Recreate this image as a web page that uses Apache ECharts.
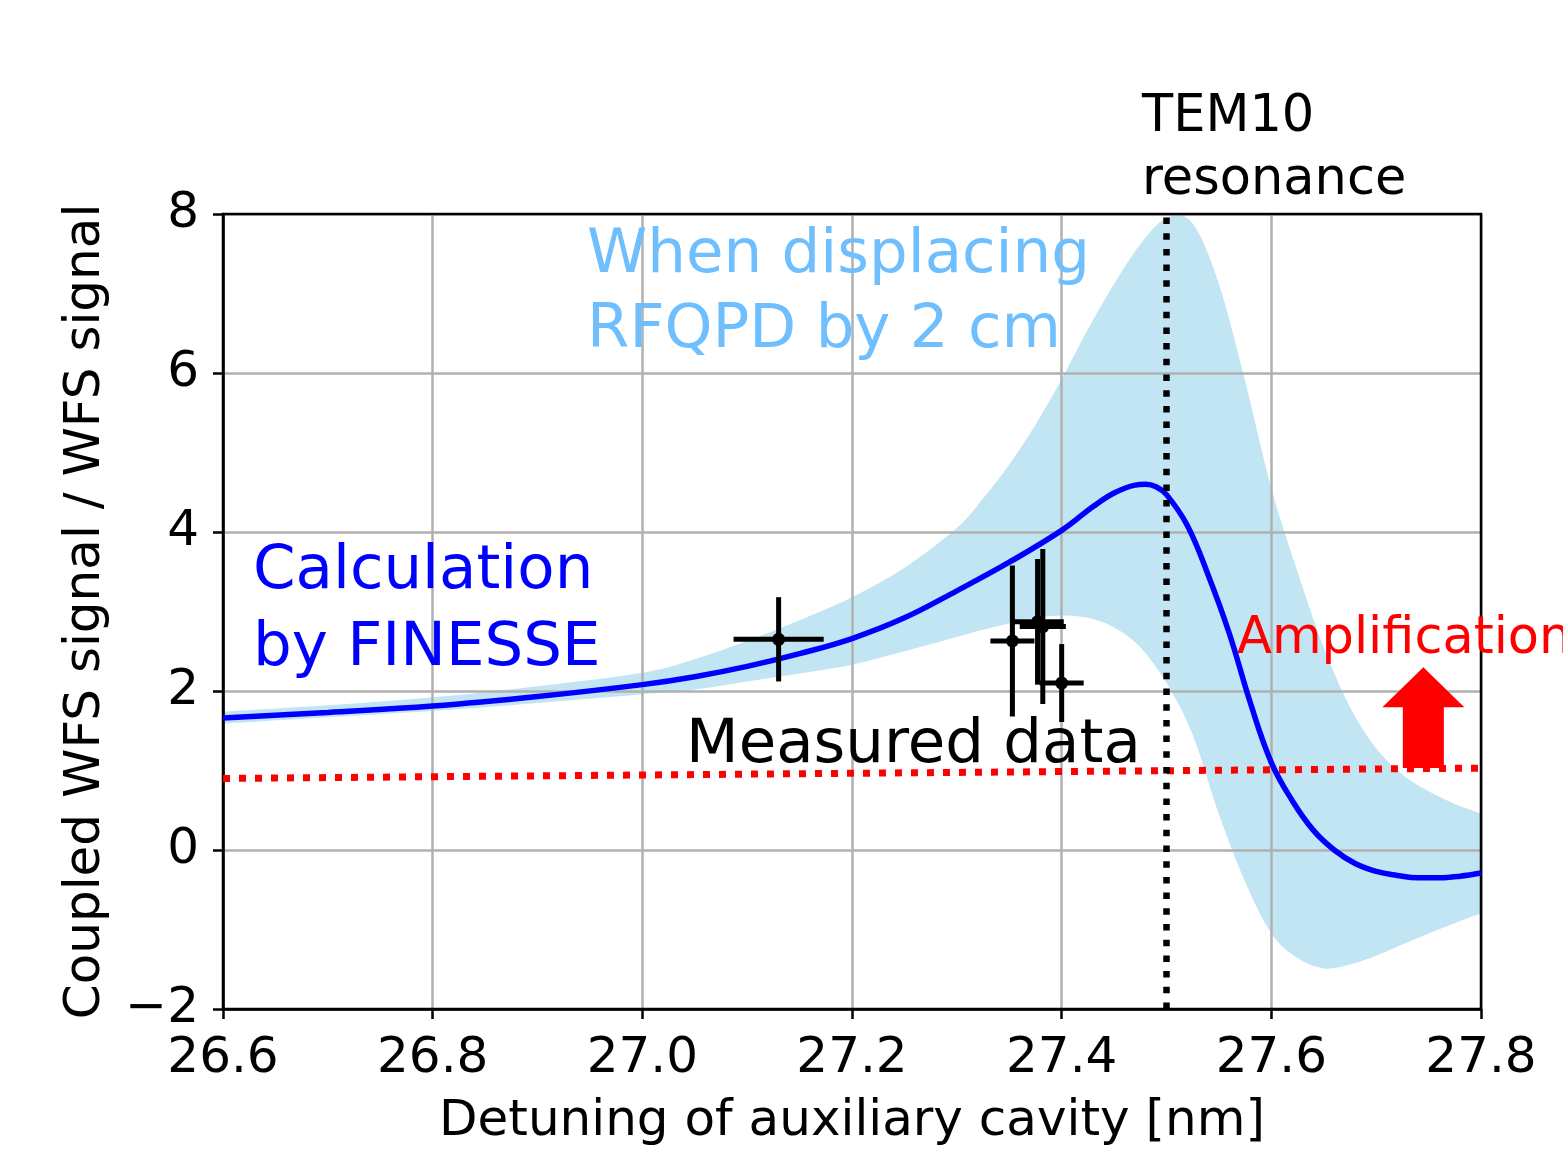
<!DOCTYPE html>
<html>
<head>
<meta charset="utf-8">
<script src="https://cdn.jsdelivr.net/npm/echarts@6/dist/echarts.min.js"></script>
<style>
  html, body { margin: 0; padding: 0; background: #fff; }
  #main { width: 1563px; height: 1152px; }
</style>
</head>
<body>
<div id="main"></div>
<script>
// FINESSE calculation (blue curve)
const calcX = [26.6, 26.7, 26.8, 26.9, 27.0, 27.05, 27.1, 27.15, 27.2, 27.25, 27.3, 27.35, 27.4,
  27.43, 27.45, 27.47, 27.48, 27.49, 27.5, 27.52, 27.54, 27.56, 27.58, 27.6, 27.62, 27.64, 27.66,
  27.68, 27.7, 27.72, 27.74, 27.76, 27.78, 27.8];
const calcY = [1.66, 1.73, 1.81, 1.93, 2.08, 2.18, 2.31, 2.47, 2.66, 2.92, 3.26, 3.62, 4.02,
  4.32, 4.49, 4.59, 4.60, 4.57, 4.47, 4.08, 3.45, 2.72, 1.85, 1.10, 0.62, 0.25, 0.00,
  -0.17, -0.27, -0.32, -0.35, -0.35, -0.33, -0.29];

// band when displacing RFQPD by 2 cm
const bandX = [26.6, 26.7, 26.8, 26.9, 27.0, 27.05, 27.1, 27.15, 27.2, 27.25, 27.3,
  27.325, 27.35, 27.375, 27.4, 27.425, 27.45, 27.475, 27.5, 27.525, 27.55, 27.575,
  27.6, 27.625, 27.65, 27.675, 27.7, 27.725, 27.75, 27.775, 27.8];
const bandUpper = [1.74, 1.82, 1.92, 2.06, 2.23, 2.40, 2.63, 2.89, 3.18, 3.55, 4.05,
  4.42, 4.85, 5.35, 5.92, 6.55, 7.12, 7.62, 7.95, 7.88, 7.12, 5.90,
  4.55, 3.50, 2.55, 1.80, 1.28, 0.95, 0.74, 0.58, 0.46];
const bandLower = [1.59, 1.67, 1.75, 1.85, 1.96, 2.02, 2.12, 2.22, 2.33, 2.50, 2.68,
  2.77, 2.85, 2.92, 2.95, 2.92, 2.80, 2.55, 2.10, 1.45, 0.45, -0.40,
  -1.05, -1.36, -1.49, -1.44, -1.33, -1.19, -1.05, -0.92, -0.80];

// measured data with error bars
const measX = [27.13, 27.353, 27.377, 27.382, 27.40];
const measY = [2.65, 2.63, 2.87, 2.81, 2.10];
const measXErr = [0.043, 0.021, 0.025, 0.022, 0.021];
const measYErr = [0.53, 0.95, 0.79, 0.975, 0.49];

// red dotted reference level and TEM10 resonance
const levelX = [26.6, 27.8];
const levelY = [0.90, 1.03];
const resonanceX = 27.5;
const resonanceY = [-2, 8];

// amplification arrow (x, from, to)
const arrowX = 27.745;
const arrowFrom = 1.03;
const arrowTo = 2.30;

const xMin = 26.6, xMax = 27.8, xStep = 0.2;
const yMin = -2, yMax = 8, yStep = 2;

const FONT = '"DejaVu Sans", Verdana, sans-serif';

// smooth path through pixel points (catmull-rom -> bezier)
function curveThrough(pts, start) {
  let d = start ? 'M' + pts[0][0] + ' ' + pts[0][1] : 'L' + pts[0][0] + ' ' + pts[0][1];
  for (let i = 0; i < pts.length - 1; i++) {
    const p0 = pts[Math.max(i - 1, 0)], p1 = pts[i], p2 = pts[i + 1];
    const p3 = pts[Math.min(i + 2, pts.length - 1)];
    const c1 = [p1[0] + (p2[0] - p0[0]) / 6, p1[1] + (p2[1] - p0[1]) / 6];
    const c2 = [p2[0] - (p3[0] - p1[0]) / 6, p2[1] - (p3[1] - p1[1]) / 6];
    d += ' C' + c1[0] + ' ' + c1[1] + ' ' + c2[0] + ' ' + c2[1] + ' ' + p2[0] + ' ' + p2[1];
  }
  return d;
}

let chart = echarts.init(document.getElementById('main'));

let option = {
  animation: false,
  grid: {
    left: 223, right: 82, top: 214, bottom: 138, z: 2.5,
    show: true, borderColor: '#000', borderWidth: 2.5
  },
  xAxis: {
    type: 'value', min: xMin, max: xMax, interval: xStep, z: 1.5,
    name: 'Detuning of auxiliary cavity [nm]',
    nameLocation: 'middle', nameGap: 88,
    nameTextStyle: { fontSize: 50, color: '#000', fontFamily: FONT },
    axisLine: { onZero: false, lineStyle: { color: '#000', width: 2.5 } },
    axisTick: { length: 10, lineStyle: { color: '#000', width: 2.5 } },
    axisLabel: {
      fontSize: 50, color: '#000', fontFamily: FONT, margin: 25,
      formatter: v => v.toFixed(1)
    },
    splitLine: { lineStyle: { color: '#b0b0b0', width: 2.5 } }
  },
  yAxis: {
    type: 'value', min: yMin, max: yMax, interval: yStep, z: 1.5,
    name: 'Coupled WFS signal / WFS signal',
    nameLocation: 'middle', nameGap: 112,
    nameTextStyle: { fontSize: 50, color: '#000', fontFamily: FONT },
    axisLine: { onZero: false, lineStyle: { color: '#000', width: 2.5 } },
    axisTick: { length: 10, lineStyle: { color: '#000', width: 2.5 } },
    axisLabel: {
      fontSize: 50, color: '#000', fontFamily: FONT, margin: 24,
      formatter: v => String(v).replace('-', '\u2212')
    },
    splitLine: { lineStyle: { color: '#b0b0b0', width: 2.5 } }
  },
  series: [
    {
      // shaded band between lower and upper curve
      type: 'custom', z: 1, clip: true, silent: true,
      data: [[bandX[0], bandLower[0]]],
      renderItem: function (params, api) {
        const up = bandX.map((x, i) => api.coord([x, bandUpper[i]]));
        const lo = bandX.map((x, i) => api.coord([x, bandLower[i]])).reverse();
        const d = curveThrough(up, true) + ' ' + curveThrough(lo, false) + ' Z';
        return {
          type: 'path',
          shape: { pathData: d },
          style: { fill: '#c2e5f3', stroke: null }
        };
      }
    },
    {
      type: 'line', z: 3, smooth: 0.4, showSymbol: false,
      lineStyle: { color: '#0000ff', width: 5.5 },
      data: calcX.map((x, i) => [x, calcY[i]])
    },
    {
      type: 'custom', z: 4,
      data: measX.map((x, i) => [x, measY[i], measXErr[i], measYErr[i]]),
      renderItem: function (params, api) {
        const x = api.value(0), y = api.value(1), ex = api.value(2), ey = api.value(3);
        const c = api.coord([x, y]);
        const l = api.coord([x - ex, y]), r = api.coord([x + ex, y]);
        const t = api.coord([x, y + ey]), b = api.coord([x, y - ey]);
        const st = { stroke: '#000', lineWidth: 5 };
        return {
          type: 'group',
          children: [
            { type: 'line', shape: { x1: l[0], y1: l[1], x2: r[0], y2: r[1] }, style: st },
            { type: 'line', shape: { x1: t[0], y1: t[1], x2: b[0], y2: b[1] }, style: st },
            { type: 'circle', shape: { cx: c[0], cy: c[1], r: 6.5 }, style: { fill: '#000' } }
          ]
        };
      }
    },
    {
      type: 'line', z: 5, showSymbol: false,
      lineStyle: { color: '#ff0000', width: 7, type: [7, 9] },
      data: levelX.map((x, i) => [x, levelY[i]])
    },
    {
      type: 'custom', z: 5,
      data: [[arrowX, arrowFrom, arrowTo]],
      renderItem: function (params, api) {
        const base = api.coord([api.value(0), api.value(1)]);
        const tip = api.coord([api.value(0), api.value(2)]);
        const headH = 40, headW = 41, shaftW = 20.5;
        const hy = tip[1] + headH;
        return {
          type: 'polygon',
          shape: {
            points: [
              [tip[0], tip[1]], [tip[0] + headW, hy], [tip[0] + shaftW, hy],
              [tip[0] + shaftW, base[1]], [tip[0] - shaftW, base[1]],
              [tip[0] - shaftW, hy], [tip[0] - headW, hy]
            ]
          },
          style: { fill: '#ff0000' }
        };
      }
    },
    {
      type: 'line', z: 6, showSymbol: false,
      lineStyle: { color: '#000', width: 6.5, type: [6.5, 9.2] },
      data: resonanceY.map(y => [resonanceX, y])
    }
  ],
  graphic: [
    { type: 'text', left: 587, top: 226, z: 10,
      style: { text: 'When displacing', font: '61px ' + FONT, fill: '#6fbfff' } },
    { type: 'text', left: 587, top: 301, z: 10,
      style: { text: 'RFQPD by 2 cm', font: '61px ' + FONT, fill: '#6fbfff' } },
    { type: 'text', left: 253, top: 542, z: 10,
      style: { text: 'Calculation', font: '61px ' + FONT, fill: '#0000ff' } },
    { type: 'text', left: 253, top: 619, z: 10,
      style: { text: 'by FINESSE', font: '61px ' + FONT, fill: '#0000ff' } },
    { type: 'text', left: 686, top: 716, z: 10,
      style: { text: 'Measured data', font: '61px ' + FONT, fill: '#000' } },
    { type: 'text', left: 1142, top: 92, z: 10,
      style: { text: 'TEM10', font: '51px ' + FONT, fill: '#000' } },
    { type: 'text', left: 1142, top: 155, z: 10,
      style: { text: 'resonance', font: '51px ' + FONT, fill: '#000' } },
    { type: 'text', x: 1237, y: 614, z: 10,
      style: { text: 'Amplification', font: '51px ' + FONT, fill: '#ff0000' } }
  ]
};

chart.setOption(option);
</script>
</body>
</html>
